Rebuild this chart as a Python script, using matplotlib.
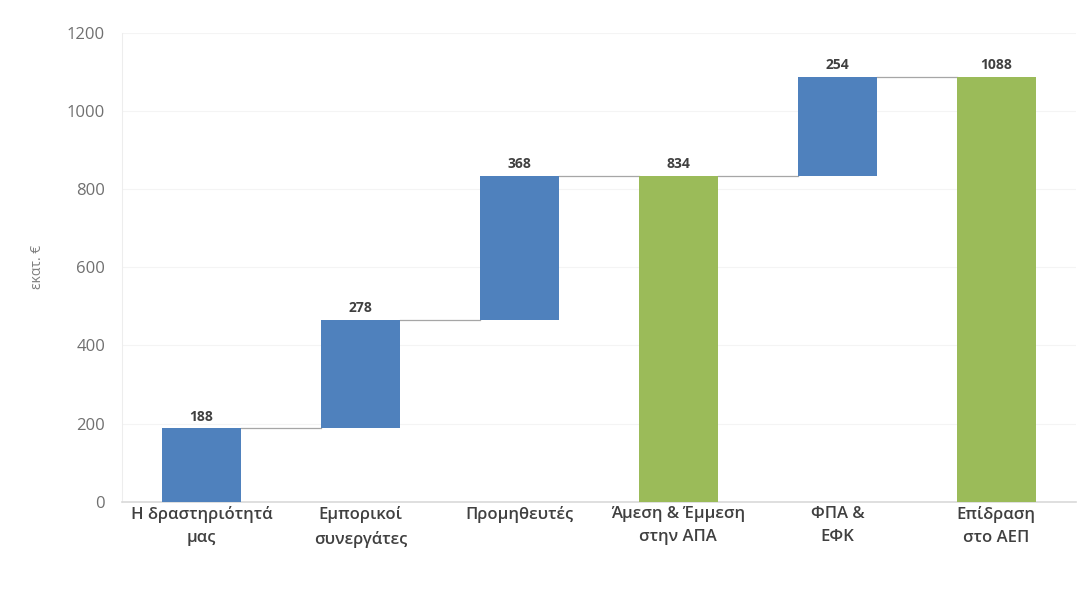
import numpy as np
import matplotlib.pyplot as plt

plt.rcParams['font.family'] = ['Open Sans', 'DejaVu Sans']

# categories and values
categories = ['Η δραστηριότητά\nμας', 'Εμπορικοί\nσυνεργάτες', 'Προμηθευτές',
              'Άμεση & Έμμεση\nστην ΑΠΑ', 'ΦΠΑ &\nΕΦΚ', 'Επίδραση\nστο ΑΕΠ']
values = [188, 278, 368, 834, 254, 1088]
is_total = [False, False, False, True, False, True]

blue = '#4F81BD'
green = '#9BBB59'

#bottoms of waterfall
bottoms = []
running = 0
for v, t in zip(values, is_total):
    if t:
        bottoms.append(0)
        running = v
    else:
        bottoms.append(running)
        running += v
tops = [b + v for b, v in zip(bottoms, values)]

fig = plt.figure(figsize=(10.78, 5.96), dpi=100)
ax = fig.add_axes([0.113, 0.158, 0.885, 0.787])

x = np.arange(len(categories))
colors = [green if t else blue for t in is_total]
ax.bar(x, values, bottom=bottoms, width=0.5, color=colors, zorder=3)

#connector lines
for i in range(len(x) - 1):
    ax.plot([x[i] + 0.25, x[i + 1] - 0.25], [tops[i], tops[i]],
            color='#A6A6A6', lw=0.9, zorder=2)

#value labels
for i in range(len(x)):
    ax.text(x[i], tops[i] + 12, str(values[i]), ha='center', va='bottom',
            fontsize=10, fontweight='bold', color='#404040')

ax.set_xlim(-0.5, len(x) - 0.5)
ax.set_ylim(0, 1200)
ax.set_yticks(np.arange(0, 1201, 200))
ax.yaxis.grid(True, color='#F4F4F4', lw=0.8, zorder=0)
ax.set_axisbelow(True)

ax.set_xticks(x)
ax.set_xticklabels(categories, fontsize=12, fontweight='semibold', color='#404040',
                   linespacing=1.6)
ax.tick_params(axis='x', length=0, pad=3)
ax.tick_params(axis='y', length=0, pad=12, labelsize=12, labelcolor='#707070')

for s in ['top', 'right']:
    ax.spines[s].set_visible(False)
ax.spines['left'].set_color('#EDEDED')
ax.spines['bottom'].set_color('#D9D9D9')
ax.spines['bottom'].set_linewidth(1.2)

ax.set_ylabel('εκατ. €', fontsize=10, color='#7F7F7F', labelpad=16)

fig.savefig('out.png', dpi=100)
